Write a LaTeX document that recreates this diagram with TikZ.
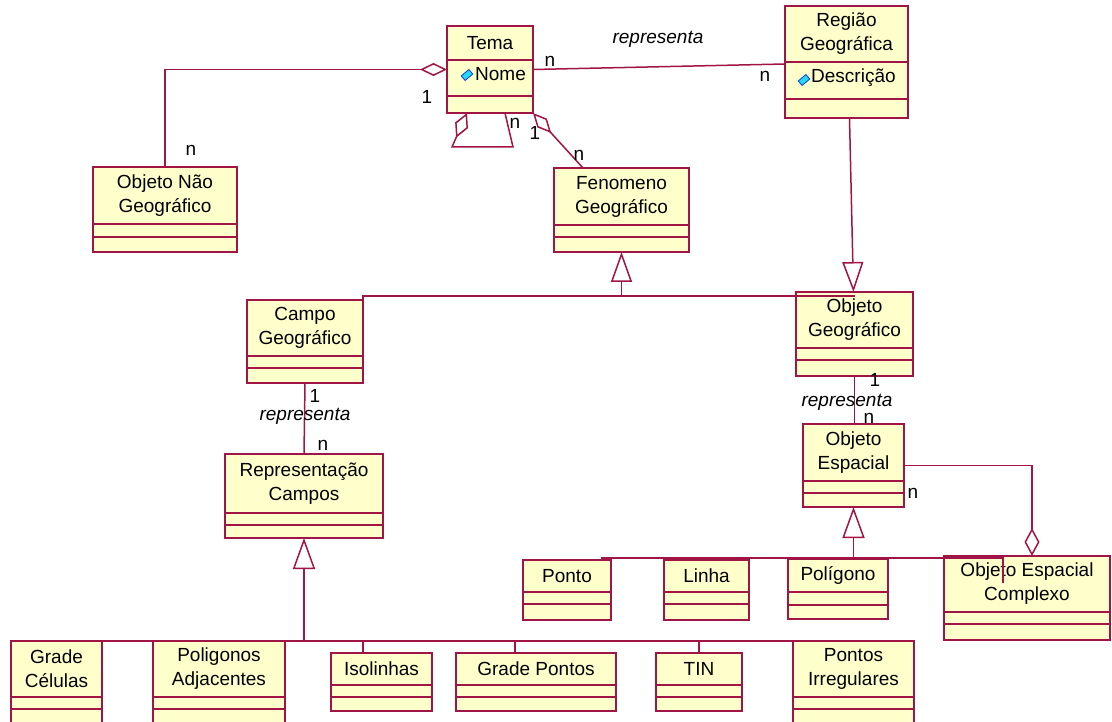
\documentclass[tikz,border=0pt]{standalone}
\usepackage{fontspec}
\setmainfont{Liberation Sans}
\usetikzlibrary{arrows.meta,calc}

\definecolor{umlline}{RGB}{160,20,70}
\definecolor{umlfill}{RGB}{255,255,204}
\definecolor{attrfill}{RGB}{40,215,245}
\definecolor{attrline}{RGB}{20,60,200}

\newcommand\umlfont{\fontsize{19}{24}\selectfont}

% UML class: name, x1, y1, x2, y2, first divider, second divider, title
\newcommand\umlclass[8]{%
  \pgfmathsetmacro\clsW{#4-#2}%
  \pgfmathsetmacro\clsH{#5-#3}%
  \node[classbox, minimum width=\clsW pt, minimum height=\clsH pt, anchor=north west] (#1) at (#2,#3) {};
  \draw[classline] (#2,#6) -- (#4,#6) (#2,#7) -- (#4,#7);
  \node[classname] (#1-name) at ({(#2+#4)/2},{(#3+#6)/2}) {#8};
}

\begin{document}
\begin{tikzpicture}[x=1pt, y=-1pt,
  classbox/.style={draw=umlline, fill=umlfill, line width=1.5pt, inner sep=0pt, outer sep=0pt},
  classline/.style={draw=umlline, line width=1.5pt},
  classname/.style={align=center, font=\umlfont, inner sep=0pt},
  attr/.style={font=\umlfont, inner sep=0pt, anchor=west},
  attricon/.style={draw=attrline, fill=attrfill, line width=0.8pt, minimum width=10pt, minimum height=6pt, inner sep=0pt, rotate=40},
  lbl/.style={font=\umlfont, inner sep=0pt},
  role/.style={font=\umlfont\itshape, inner sep=0pt},
  assoc/.style={draw=umlline, line width=1.5pt},
  agg/.style={assoc, {Diamond[open, length=27pt, width=13pt]}-},
  gen/.style={assoc, -{Triangle[open, length=30pt, width=21pt]}}
]
\useasboundingbox (0,0) rectangle (1112,722);
\clip (0,0) rectangle (1112,722);
\fill[white] (0,0) rectangle (1112,722);

% ---------- classes ----------
\umlclass{tema}{447}{26}{533}{113}{60}{96}{Tema}
\umlclass{reg}{785}{6}{908}{118}{62}{99}{Região\\Geográfica}
\umlclass{ong}{93}{167}{237}{252}{224}{237}{Objeto Não\\Geográfico}
\umlclass{fen}{554}{168}{689}{252}{225}{237}{Fenomeno\\Geográfico}
\umlclass{campo}{247}{300}{363}{383}{356}{368}{Campo\\Geográfico}
\umlclass{og}{796}{292}{913}{376}{348}{360}{Objeto\\Geográfico}
\umlclass{rep}{225}{454}{383}{538}{513}{525}{Representação\\Campos}
\umlclass{oe}{803}{424}{904}{507}{481}{493}{Objeto\\Espacial}
\umlclass{pto}{523}{560}{611}{620}{592}{604}{Ponto}
\umlclass{lin}{664}{560}{749}{620}{592}{604}{Linha}
\umlclass{pol}{788}{559}{888}{619}{592}{605}{Polígono}
\umlclass{oc}{944}{556}{1110}{640}{612}{624}{Objeto Espacial\\Complexo}
\umlclass{gc}{11}{641}{102}{735}{697}{709}{Grade\\Células}
\umlclass{pa}{153}{641}{285}{735}{697}{709}{Poligonos\\Adjacentes}
\umlclass{iso}{331}{653}{432}{711}{685}{697}{Isolinhas}
\umlclass{gp}{456}{653}{616}{711}{685}{697}{Grade Pontos}
\umlclass{tin}{656}{653}{742}{711}{685}{697}{TIN}
\umlclass{pi}{793}{641}{914}{735}{697}{709}{Pontos\\Irregulares}

% ---------- attributes ----------
\node[attricon] (tema-icon) at (467,75) {};
\node[attr] (tema-attr) at (475,74) {Nome};
\node[attricon] (reg-icon) at (804,80) {};
\node[attr] (reg-attr) at (811,78) {Descrição};

% ---------- associations ----------
% Tema -- Região Geográfica
\draw[assoc] (tema.east) -- ([yshift=-2pt]reg.west);
\node[role] (r1) at (658,39) {representa};
\node[lbl] (m1) at (550,61) {n};
\node[lbl] (m2) at (765,76) {n};

% Tema aggregates Objeto Não Geográfico
\coordinate (k1) at (ong.north |- tema.west);
\draw[agg] (tema.west) -- (k1) -- (ong.north);
\node[lbl] (m3) at (427,97) {1};
\node[lbl] (m4) at (191,150) {n};

% Tema aggregates itself
\draw[assoc, {Diamond[open, length=27pt, width=14pt]}-]
  ([xshift=20pt]tema.south west) -- ++(-15,34) -- ++(61,0) -- ([xshift=58pt]tema.south west);
\node[lbl] (m5) at (515,123) {n};

% Tema aggregates Fenomeno Geográfico
\draw[assoc, {Diamond[open, length=27pt, width=13pt]}-]
  (tema.south east) -- ([xshift=29pt]fen.north west);
\node[lbl] (m6) at (535,133) {1};
\node[lbl] (m7) at (579,155) {n};

% Campo Geográfico -- Representação Campos
\draw[assoc] (campo.south) -- (rep.north);
\node[lbl] (m8) at (315,396) {1};
\node[role] (r2) at (305,416) {representa};
\node[lbl] (m9) at (323,445) {n};

% Objeto Geográfico -- Objeto Espacial
\draw[assoc] (og.south) -- (oe.north -| og.south);
\node[lbl] (m10) at (875,380) {1};
\node[role] (r3) at (847,402) {representa};
\node[lbl] (m11) at (869,418) {n};

% Objeto Espacial Complexo aggregates Objeto Espacial
\draw[assoc, {Diamond[open, length=28pt, width=15pt]}-]
  ([xshift=88pt]oc.north west) |- (oe.east);
\node[lbl] (m12) at (913,493) {n};

% ---------- generalizations ----------
% Região Geográfica -> Objeto Geográfico
\draw[gen] ([xshift=3pt]reg.south) -- ([xshift=-1pt]og.north);

% Campo / Objeto Geográfico -> Fenomeno Geográfico
\coordinate (j1) at ($(fen.south)+(0,44)$);
\draw[gen] (j1) -- (fen.south);
\draw[assoc] (campo.north east) |- (j1) -- (j1 -| og.north);

% Ponto / Linha / Polígono / Complexo -> Objeto Espacial
\coordinate (j2) at ($(oe.south)+(0,51)$);
\draw[gen, -{Triangle[open, length=31pt, width=22pt]}] (j2) -- (oe.south);
\draw[assoc] ([xshift=78pt,yshift=2pt]pto.north west) -- ([xshift=59pt,yshift=-2pt]oc.north west)
  -- ([xshift=59pt,yshift=-27pt]oc.north west);

% Representações -> Representação Campos
\coordinate (j3) at ($(rep.south)+(0,103)$);
\draw[gen, -{Triangle[open, length=31pt, width=22pt]}] (j3) -- (rep.south);
\draw[assoc] (gc.north) -- ([xshift=7pt]pi.north west);
\draw[assoc] ([xshift=32pt]iso.north west) -- ([xshift=32pt]iso.north west |- j3);
\draw[assoc] ([xshift=59pt]gp.north west) -- ([xshift=59pt]gp.north west |- j3);
\draw[assoc] (tin.north) -- (tin.north |- j3);
\end{tikzpicture}
\end{document}
